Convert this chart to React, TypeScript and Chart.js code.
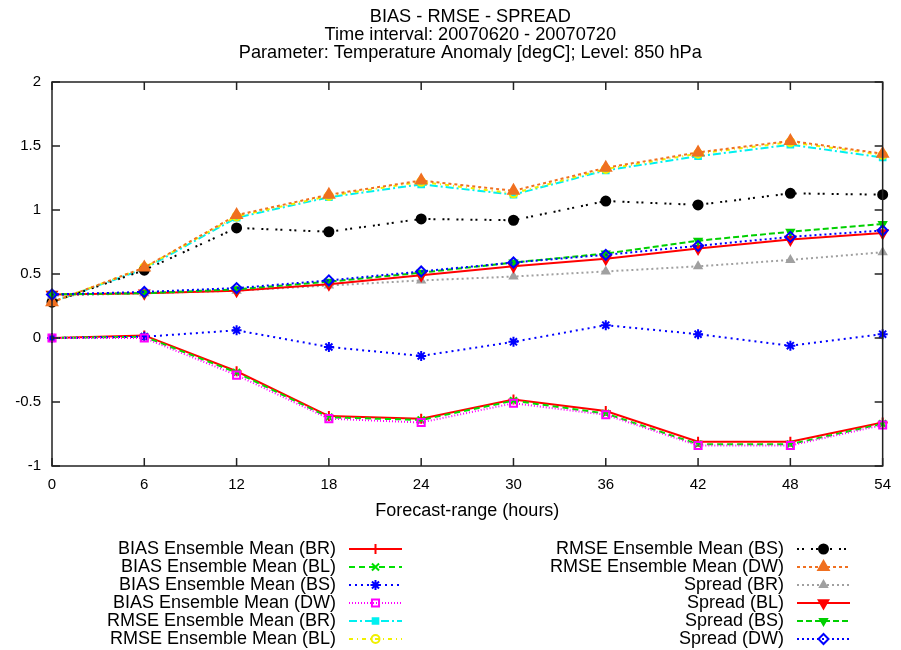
import React, { useEffect, useRef } from 'react';
import { Chart, registerables } from 'chart.js';
import { drawPoint } from 'chart.js/helpers';

Chart.register(...registerables);

const FONT = '"Liberation Sans", Arial, Helvetica, sans-serif';

const titleLines = [
  'BIAS - RMSE - SPREAD',
  'Time interval: 20070620 - 20070720',
  'Parameter: Temperature Anomaly [degC]; Level: 850 hPa',
];
const xTitle = 'Forecast-range (hours)';

const hours = [0, 6, 12, 18, 24, 30, 36, 42, 48, 54];

const biasBR = [0, 0.02, -0.26, -0.61, -0.63, -0.48, -0.57, -0.81, -0.81, -0.66];
const biasBL = [0, 0.01, -0.27, -0.62, -0.64, -0.49, -0.59, -0.83, -0.83, -0.67];
const biasBS = [0, 0.01, 0.06, -0.07, -0.14, -0.03, 0.1, 0.03, -0.06, 0.03];
const biasDW = [0, 0, -0.29, -0.63, -0.66, -0.51, -0.6, -0.84, -0.84, -0.68];
const rmseBR = [0.28, 0.54, 0.94, 1.1, 1.2, 1.12, 1.31, 1.42, 1.51, 1.41];
const rmseBL = [0.28, 0.55, 0.95, 1.11, 1.22, 1.13, 1.32, 1.44, 1.53, 1.43];
const rmseBS = [0.28, 0.53, 0.86, 0.83, 0.93, 0.92, 1.07, 1.04, 1.13, 1.12];
const rmseDW = [0.28, 0.55, 0.96, 1.12, 1.23, 1.15, 1.33, 1.45, 1.54, 1.44];
const spreadBR = [0.33, 0.35, 0.37, 0.41, 0.45, 0.48, 0.52, 0.56, 0.61, 0.67];
const spreadBL = [0.34, 0.35, 0.37, 0.42, 0.49, 0.56, 0.62, 0.7, 0.77, 0.82];
const spreadBS = [0.34, 0.35, 0.38, 0.44, 0.51, 0.59, 0.66, 0.76, 0.83, 0.89];
const spreadDW = [0.34, 0.36, 0.39, 0.45, 0.52, 0.59, 0.65, 0.72, 0.79, 0.84];

const seriesLabels = [
  'BIAS Ensemble Mean (BR)',
  'BIAS Ensemble Mean (BL)',
  'BIAS Ensemble Mean (BS)',
  'BIAS Ensemble Mean (DW)',
  'RMSE Ensemble Mean (BR)',
  'RMSE Ensemble Mean (BL)',
  'RMSE Ensemble Mean (BS)',
  'RMSE Ensemble Mean (DW)',
  'Spread (BR)',
  'Spread (BL)',
  'Spread (BS)',
  'Spread (DW)',
];
const seriesValues = [
  biasBR, biasBL, biasBS, biasDW,
  rmseBR, rmseBL, rmseBS, rmseDW,
  spreadBR, spreadBL, spreadBS, spreadDW,
];

const NONE = 'rgba(0,0,0,0)';
const styles = [
  { color: '#ff0000', dash: [], point: 'cross', radius: 5, fill: NONE, rot: 0 },
  { color: '#00e000', dash: [6, 4], point: 'crossRot', radius: 5, fill: NONE, rot: 0 },
  { color: '#0000ff', dash: [2, 4], point: 'star', radius: 5, fill: NONE, rot: 0 },
  { color: '#ff00ff', dash: [1, 2], point: 'rect', radius: 5, fill: NONE, rot: 0 },
  { color: '#00f0f0', dash: [8, 3, 2, 3], point: 'rect', radius: 4, fill: '#00f0f0', rot: 0 },
  { color: '#f0f000', dash: [4, 4, 1, 4], point: 'circle', radius: 4, fill: NONE, rot: 0 },
  { color: '#000000', dash: [2, 3, 2, 7], point: 'circle', radius: 4.5, fill: '#000000', rot: 0 },
  { color: '#f07020', dash: [3, 3], point: 'triangle', radius: 6, fill: '#f07020', rot: 0 },
  { color: '#a0a0a0', dash: [2, 3], point: 'triangle', radius: 4, fill: '#a0a0a0', rot: 0 },
  { color: '#ff0000', dash: [], point: 'triangle', radius: 5.5, fill: '#ff0000', rot: 180 },
  { color: '#00d000', dash: [6, 3], point: 'triangle', radius: 4, fill: '#00d000', rot: 180 },
  { color: '#0000ff', dash: [2, 3], point: 'rectRot', radius: 5, fill: NONE, rot: 0 },
];

const N = seriesLabels.length;

const framePlugin = {
  id: 'frameTicksTitle',
  afterDraw(chart: any) {
    const { ctx, chartArea } = chart;
    const { left, right, top, bottom } = chartArea;
    const xs = chart.scales.x;
    const ys = chart.scales.y;
    ctx.save();
    ctx.strokeStyle = '#222';
    ctx.lineWidth = 1.5;
    ctx.setLineDash([]);
    ctx.strokeRect(left, top, right - left, bottom - top);
    const tl = 8;
    ctx.beginPath();
    xs.ticks.forEach((t: any) => {
      const px = xs.getPixelForValue(t.value);
      ctx.moveTo(px, bottom);
      ctx.lineTo(px, bottom - tl);
      ctx.moveTo(px, top);
      ctx.lineTo(px, top + tl);
    });
    ys.ticks.forEach((t: any) => {
      const py = ys.getPixelForValue(t.value);
      ctx.moveTo(left, py);
      ctx.lineTo(left + tl, py);
      ctx.moveTo(right, py);
      ctx.lineTo(right - tl, py);
    });
    ctx.stroke();

    // title
    ctx.fillStyle = '#000';
    ctx.font = `18.2px ${FONT}`;
    ctx.textAlign = 'center';
    ctx.textBaseline = 'middle';
    const cx = (left + right) / 2 + 3;
    titleLines.forEach((line, i) => ctx.fillText(line, cx, 17 + i * 18));

    // legend
    ctx.font = `18px ${FONT}`;
    ctx.textAlign = 'right';
    const ds = chart.data.datasets;
    ds.forEach((d: any, i: number) => {
      const col = i < 6 ? 0 : 1;
      const row = i % 6;
      const tx = col === 0 ? 336 : 784;
      const y = 549 + row * 18;
      ctx.fillStyle = '#000';
      ctx.fillText(d.label, tx, y);
      const x0 = tx + 13;
      const x1 = tx + 66;
      ctx.strokeStyle = d.borderColor;
      ctx.lineWidth = d.borderWidth;
      ctx.setLineDash(d.borderDash || []);
      ctx.beginPath();
      ctx.moveTo(x0, y);
      ctx.lineTo(x1, y);
      ctx.stroke();
      ctx.setLineDash([]);
      ctx.fillStyle = d.pointBackgroundColor;
      ctx.strokeStyle = d.pointBorderColor;
      ctx.lineWidth = d.pointBorderWidth;
      drawPoint(ctx, {
        pointStyle: d.pointStyle,
        rotation: d.pointRotation,
        radius: d.pointRadius,
        borderWidth: d.pointBorderWidth,
      }, (x0 + x1) / 2, y);
    });
    ctx.restore();
  },
};

export default function App() {
  const ref = useRef<HTMLCanvasElement | null>(null);
  useEffect(() => {
    if (!ref.current) return;
    const datasets = seriesLabels.map((label, i) => {
      const s = styles[i];
      return {
        label,
        data: hours.map((h, k) => ({ x: h, y: seriesValues[i][k] })),
        borderColor: s.color,
        borderWidth: 2,
        borderDash: s.dash,
        pointStyle: s.point,
        pointRadius: s.radius,
        pointRotation: s.rot,
        pointBackgroundColor: s.fill,
        pointBorderColor: s.color,
        pointBorderWidth: 2,
        tension: 0,
        fill: false,
        clip: false,
        order: N - i,
      };
    });
    const chart = new Chart(ref.current, {
      type: 'line',
      data: { datasets },
      options: {
        animation: false,
        responsive: false,
        devicePixelRatio: 1,
        layout: { padding: { left: 0, right: 16, top: 82, bottom: 124 } },
        plugins: { legend: { display: false }, title: { display: false }, tooltip: { enabled: false } },
        scales: {
          x: {
            type: 'linear',
            min: 0,
            max: 54,
            ticks: { stepSize: 6, padding: 10, color: '#000', font: { family: FONT, size: 15 } },
            grid: { display: false, drawTicks: false },
            border: { display: false },
            title: { display: true, text: xTitle, color: '#000', font: { family: FONT, size: 18 }, padding: { top: 0, bottom: 4 } },
            afterFit: (s: any) => { s.height = 60; },
          },
          y: {
            type: 'linear',
            min: -1,
            max: 2,
            ticks: { stepSize: 0.5, padding: 11, color: '#000', font: { family: FONT, size: 15 }, callback: (v: any) => String(v) },
            grid: { display: false, drawTicks: false },
            border: { display: false },
            afterFit: (s: any) => { s.width = 52; },
          },
        },
      },
      plugins: [framePlugin],
    } as any);
    return () => chart.destroy();
  }, []);
  return (
    <div style={{ position: 'absolute', left: 0, top: 0, width: 901, height: 650, background: '#fff' }}>
      <canvas ref={ref} width={901} height={650} style={{ display: 'block' }} />
    </div>
  );
}
